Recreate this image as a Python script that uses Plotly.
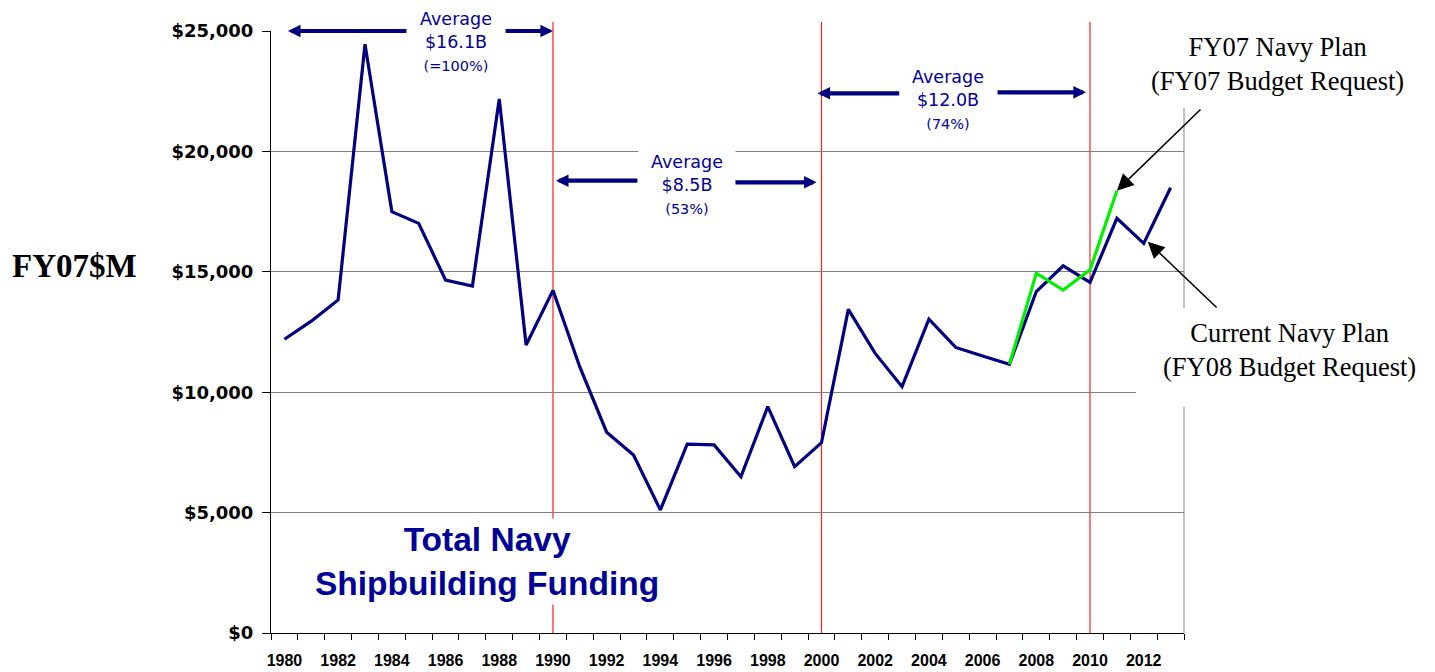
import plotly.graph_objects as go

# ---- data ----
years = list(range(1980, 2014))
current_plan = [12200, 12950, 13830, 24450, 17500, 17010, 14660, 14410, 22180, 11960,
                14230, 11050, 8340, 7390, 5110, 7840, 7810, 6490, 9400, 6910,
                7900, 13440, 11610, 10230, 13030, 11860, 11500, 11160, 14180, 15250,
                14560, 17220, 16180, 18490]
fy07_years = [2007, 2008, 2009, 2010, 2011]
fy07_plan = [11160, 14940, 14240, 15080, 18370]
even_years = list(range(1980, 2013, 2))
y_ticks = [0, 5000, 10000, 15000, 20000, 25000]
y_ticktext = ["$0", "$5,000", "$10,000", "$15,000", "$20,000", "$25,000"]
period_bounds = [1990, 2000, 2010]
averages = [
    ("Average", "$16.1B", "(=100%)"),
    ("Average", "$8.5B", "(53%)"),
    ("Average", "$12.0B", "(74%)"),
]

NAVY = "#000080"
TXT = "#000099"
SANS = "DejaVu Sans"
SERIF = "Liberation Serif, Times New Roman"

fig = go.Figure()
fig.add_trace(go.Scatter(x=years, y=current_plan, mode="lines",
                         line=dict(color=NAVY, width=3.2), showlegend=False,
                         hoverinfo="skip"))
fig.add_trace(go.Scatter(x=fy07_years, y=fy07_plan, mode="lines",
                         line=dict(color="#00F000", width=3.2), showlegend=False,
                         hoverinfo="skip"))

shapes = []
for yr in period_bounds:
    shapes.append(dict(type="line", xref="x", yref="paper", x0=yr, x1=yr, y0=0, y1=1.015,
                       line=dict(color="#FF2020", width=1.2), layer="between"))
# right border (gray)
shapes.append(dict(type="line", xref="paper", yref="paper", x0=1, x1=1, y0=0, y1=1,
                   line=dict(color="#808080", width=1), layer="between"))
# white masks behind right-hand labels
shapes.append(dict(type="rect", xref="paper", yref="paper", x0=0.9135, x1=1.3, y0=0.872, y1=1.1,
                   fillcolor="white", line=dict(width=0), layer="above"))
shapes.append(dict(type="rect", xref="paper", yref="paper", x0=0.9474, x1=1.3, y0=0.3754, y1=0.5399,
                   fillcolor="white", line=dict(width=0), layer="above"))

ann = []
# Average text boxes
avg_pos = [(1986.38, 24560), (1994.99, 18605), (2004.71, 22176)]
for (l1, l2, l3), (ax_, ay_) in zip(averages, avg_pos):
    ann.append(dict(x=ax_, y=ay_, xref="x", yref="y", showarrow=False,
                    xanchor="center", yanchor="middle",
                    text=f"{l1}<br>{l2}<br><span style='font-size:14.5px'>{l3}</span>",
                    font=dict(family=SANS, size=17.5, color=TXT),
                    bgcolor="white", width=90, borderpad=3, align="center"))

# double arrows (head x, tail x, y)
arrows = [
    (1980.13, 1984.60, 25000, 25000),
    (1990.0, 1988.18, 25000, 25000),
    (1990.11, 1993.2, 18783, 18783),
    (1999.82, 1996.74, 18716, 18716),
    (1999.85, 2002.95, 22412, 22412),
    (2009.85, 2006.50, 22453, 22453),
]
for hx, tx, hy, ty in arrows:
    ann.append(dict(x=hx, y=hy, ax=tx, ay=ty, xref="x", yref="y", axref="x", ayref="y",
                    text="", showarrow=True, arrowhead=2, arrowsize=0.6, arrowwidth=4.2,
                    arrowcolor=NAVY))

# title
ann.append(dict(x=0.2366, y=0.118, xref="paper", yref="paper", showarrow=False,
                xanchor="center", yanchor="middle",
                text="<b>Total Navy<br>Shipbuilding Funding</b>",
                font=dict(family="Liberation Sans, Arial", size=33.5, color=TXT),
                bgcolor="white", borderpad=2))
# y-axis label
ann.append(dict(x=-0.2147, y=0.6096, xref="paper", yref="paper", showarrow=False,
                xanchor="center", yanchor="middle",
                text="<b>FY07$M</b>",
                font=dict(family=SERIF, size=33, color="black")))
# right labels
ann.append(dict(x=1.1019, y=0.945, xref="paper", yref="paper", showarrow=False,
                xanchor="center", yanchor="middle",
                text="FY07 Navy Plan<br>(FY07 Budget Request)",
                font=dict(family=SERIF, size=26.5, color="black")))
ann.append(dict(x=1.1161, y=0.470, xref="paper", yref="paper", showarrow=False,
                xanchor="center", yanchor="middle",
                text="Current Navy Plan<br>(FY08 Budget Request)",
                font=dict(family=SERIF, size=26.5, color="black")))
# black pointer arrows
ann.append(dict(x=fy07_years[-1], y=fy07_plan[-1], ax=2014.17, ay=21802,
                xref="x", yref="y", axref="x", ayref="y", text="", showarrow=True,
                arrowhead=2, arrowsize=2.2, arrowwidth=1.5, arrowcolor="black"))
ann.append(dict(x=2012.15, y=16250, ax=2014.77, ay=13455,
                xref="x", yref="y", axref="x", ayref="y", text="", showarrow=True,
                arrowhead=2, arrowsize=2.2, arrowwidth=1.5, arrowcolor="black"))

fig.update_layout(
    width=1435, height=672,
    margin=dict(l=263, r=259, t=23, b=47),
    plot_bgcolor="white", paper_bgcolor="white",
    shapes=shapes, annotations=ann,
    xaxis=dict(range=[1979.5, 2013.5], tickmode="array", tickvals=even_years,
               ticktext=[str(y) for y in even_years], ticks="",
               showline=True, linecolor="black", linewidth=1, showgrid=False,
               zeroline=False, ticklabelstandoff=13, automargin=False,
               tickfont=dict(family="Liberation Sans, Arial", size=16, color="black", weight="bold"),
               minor=dict(tick0=1979.5, dtick=1, ticks="outside", ticklen=6,
                          tickcolor="black", tickwidth=1, showgrid=False)),
    yaxis=dict(range=[0, 25000], tickmode="array", tickvals=y_ticks, ticktext=y_ticktext,
               ticks="outside", ticklen=8, ticklabelstandoff=5, automargin=False,
               tickcolor="black", showline=True, linecolor="black", linewidth=1,
               showgrid=True, gridcolor="#808080", gridwidth=1, zeroline=False,
               tickfont=dict(family=SANS, size=18, color="black", weight="bold")),
)

fig.write_html("out.html")
